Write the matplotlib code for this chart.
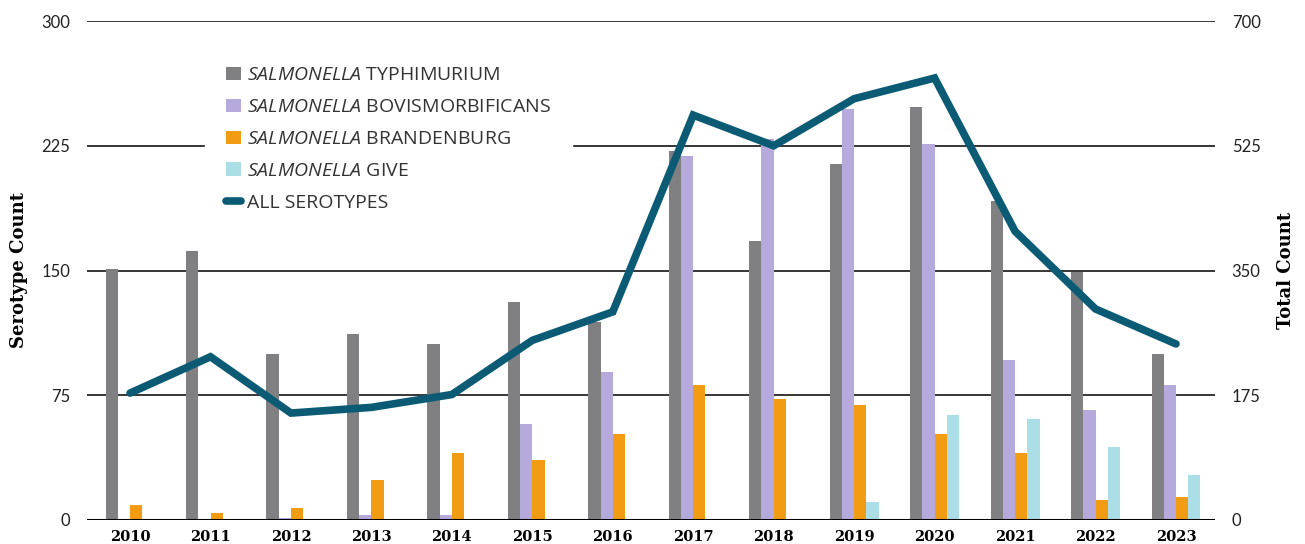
import numpy as np
import matplotlib
matplotlib.use("Agg")
from matplotlib import pyplot as plt
from matplotlib import font_manager

# data
years = ["2010", "2011", "2012", "2013", "2014", "2015", "2016",
         "2017", "2018", "2019", "2020", "2021", "2022", "2023"]
typhimurium = [151, 162, 100, 112, 106, 131, 119, 222, 168, 214, 248, 192, 149, 100]
bovismorbificans = [0, 0, 1, 3, 3, 58, 89, 219, 229, 247, 226, 96, 66, 81]
brandenburg = [9, 4, 7, 24, 40, 36, 52, 81, 73, 69, 52, 40, 12, 14]
give = [0, 0, 0, 0, 0, 0, 0, 0, 0, 11, 63, 61, 44, 27]
all_serotypes = [178, 229, 150, 158, 176, 252, 292, 568, 525, 591, 620, 405, 296, 247]

left_ticks = [0, 75, 150, 225, 300]
right_ticks = [0, 175, 350, 525, 700]

# pick a narrow font for the legend if there is one
try:
    font_manager.findfont("Liberation Sans Narrow", fallback_to_default=False)
    leg_font, leg_size = "Liberation Sans Narrow", 16
except Exception:
    leg_font, leg_size = "Open Sans", 14

plt.rcParams["mathtext.fontset"] = "custom"
plt.rcParams["mathtext.it"] = leg_font + ":italic"
plt.rcParams["mathtext.rm"] = leg_font

fig = plt.figure(figsize=(13.05, 5.44), dpi=100)
ax = fig.add_axes([87 / 1305, 24 / 544, 1128 / 1305, 499 / 544])
ax2 = ax.twinx()

x = np.arange(len(years))
w = 0.152
series = [
    (typhimurium, "#808083", r"$\mathit{SALMONELLA}$ TYPHIMURIUM"),
    (bovismorbificans, "#b6a9dc", r"$\mathit{SALMONELLA}$ BOVISMORBIFICANS"),
    (brandenburg, "#f29c13", r"$\mathit{SALMONELLA}$ BRANDENBURG"),
    (give, "#acdee7", r"$\mathit{SALMONELLA}$ GIVE"),
]
for i, (vals, col, lab) in enumerate(series):
    ax.bar(x + (i - 1.5) * w, vals, width=w, color=col, label=lab, zorder=2)

# gridlines behind bars, thick baseline
for t in left_ticks[1:]:
    ax.axhline(t, color="black", lw=1.1, zorder=1)
ax.axhline(0, color="black", lw=2.2, zorder=3)

ax2.plot(x, all_serotypes, color="#0b5b74", lw=5.5, solid_capstyle="round",
         solid_joinstyle="miter", label="ALL SEROTYPES", zorder=4)

ax.set_xlim(-0.535, 13.485)
ax.set_ylim(0, 300)
ax2.set_ylim(0, 700)
ax.set_yticks(left_ticks)
ax2.set_yticks(right_ticks)
ax.set_xticks(x)
ax.set_xticklabels(years, fontfamily="DejaVu Serif", fontweight="bold", fontsize=10.5)

for a in (ax, ax2):
    for s in a.spines.values():
        s.set_visible(False)
    a.tick_params(length=0)
ax.tick_params(axis="y", labelsize=12, pad=12)
ax2.tick_params(axis="y", labelsize=12, pad=12)
ax.tick_params(axis="x", pad=7)
for lab in ax.get_yticklabels() + ax2.get_yticklabels():
    lab.set_fontfamily("Lato")
    lab.set_color("#222222")

ax.set_ylabel("Serotype Count", fontfamily="DejaVu Serif", fontweight="bold",
              fontsize=13, labelpad=10)
ax2.set_ylabel("Total Count", fontfamily="DejaVu Serif", fontweight="bold",
               fontsize=13, labelpad=12)

# legend with a white box that hides the gridline behind it
h1, l1 = ax.get_legend_handles_labels()
h2, l2 = ax2.get_legend_handles_labels()
ax2.set_zorder(ax.get_zorder() + 1)
ax2.patch.set_visible(False)
leg = ax2.legend(h1 + h2, l1 + l2, loc="upper left",
                 bbox_to_anchor=(118 / 1128, 475 / 499), borderaxespad=0,
                 frameon=True, fancybox=False, framealpha=1, edgecolor="white",
                 prop={"family": leg_font, "size": leg_size},
                 handlelength=0.77, handleheight=0.67, handletextpad=0.3,
                 labelspacing=0.71, borderpad=1.1)
for t in leg.get_texts():
    t.set_color("#333333")

fig.savefig("out.png", dpi=100)
